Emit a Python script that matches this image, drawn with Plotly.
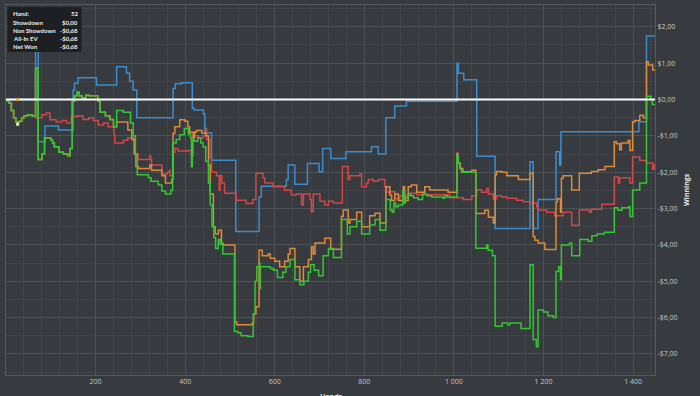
import plotly.graph_objects as go

hands_max = 1449

showdown = [(0,0.0),(66,1.37),(72,-1.16),(87,-0.73),(117,-0.84),(150,0.26),(153,0.45),(161,0.6),(202,0.4),(247,0.9),(269,0.72),(276,0.5),(284,0.26),(292,-0.5),(373,0.3),(378,0.43),(392,0.46),(416,-0.24),(420,-0.29),(441,-0.4),(444,-0.92),(459,-1.67),(513,-3.63),(565,-2.68),(570,-2.39),(626,-2.2),(630,-1.8),(645,-2.33),(673,-1.76),(699,-1.99),(707,-1.35),(725,-1.62),(759,-1.44),(816,-1.3),(831,-1.5),(848,-0.5),(868,-0.18),(894,-0.05),(1007,1.0),(1010,0.72),(1022,0.54),(1051,-1.56),(1092,-3.55),(1170,-1.71),(1177,-3.55),(1188,-2.75),(1228,-1.44),(1236,-1.8),(1239,-0.89),(1413,-0.61),(1430,1.75),(1449,1.75)]

non_showdown = [(0,-0.03),(7,-0.1),(12,-0.3),(17,-0.5),(22,-0.62),(30,-0.6),(35,-0.5),(40,-0.45),(48,-0.42),(58,-0.45),(66,-0.5),(80,-0.42),(90,-0.37),(98,-0.56),(112,-0.62),(125,-0.58),(135,-0.65),(146,-0.47),(160,-0.45),(172,-0.55),(185,-0.5),(195,-0.58),(206,-0.7),(218,-0.65),(228,-0.75),(241,-0.96),(243,-1.2),(262,-1.12),(272,-1.05),(285,-1.1),(288,-1.5),(295,-1.65),(321,-1.55),(323,-1.65),(325,-1.8),(348,-2.05),(360,-2.0),(365,-1.95),(366,-2.1),(373,-1.45),(377,-1.35),(384,-1.42),(406,-1.4),(414,-1.55),(418,-1.0),(430,-1.05),(440,-1.0),(446,-0.8),(448,-1.1),(455,-1.6),(459,-2.0),(470,-2.1),(476,-2.5),(478,-2.1),(482,-2.3),(488,-2.58),(514,-2.77),(536,-2.86),(551,-2.75),(558,-2.03),(574,-2.15),(578,-2.3),(596,-2.4),(622,-2.5),(637,-2.63),(648,-2.6),(660,-2.9),(664,-2.6),(679,-2.75),(682,-3.09),(686,-2.6),(701,-2.8),(712,-2.9),(720,-2.8),(731,-2.85),(751,-1.84),(764,-2.2),(768,-2.1),(790,-2.05),(794,-2.4),(805,-2.3),(809,-2.2),(820,-2.25),(831,-2.2),(846,-2.4),(850,-2.55),(857,-2.54),(868,-2.73),(879,-2.65),(887,-2.5),(890,-2.65),(902,-2.58),(917,-2.62),(991,-2.7),(1021,-2.75),(1040,-2.65),(1051,-2.49),(1062,-2.55),(1073,-2.45),(1077,-2.6),(1088,-2.73),(1095,-2.65),(1107,-2.68),(1118,-2.72),(1140,-2.77),(1155,-2.81),(1170,-2.85),(1185,-2.95),(1188,-3.04),(1207,-3.1),(1225,-3.2),(1244,-3.1),(1263,-3.46),(1280,-3.04),(1303,-3.1),(1307,-3.02),(1330,-2.88),(1358,-2.13),(1367,-2.3),(1370,-2.15),(1389,-2.15),(1393,-2.3),(1399,-1.58),(1415,-1.68),(1430,-1.75),(1444,-1.92),(1447,-1.8),(1449,-1.8)]

all_in_ev = [(0,-0.03),(7,-0.1),(12,-0.3),(17,-0.5),(22,-0.62),(30,-0.6),(35,-0.5),(40,-0.45),(48,-0.42),(58,-0.45),(66,0.87),(72,-1.65),(80,-1.5),(86,-1.06),(100,-1.12),(104,-1.2),(108,-1.3),(118,-1.45),(128,-1.5),(138,-1.55),(143,-1.35),(148,-0.05),(153,0.1),(158,0.2),(163,0.1),(170,0.05),(178,0.12),(186,0.1),(205,-0.05),(210,-0.35),(222,-0.45),(232,-0.55),(240,-0.75),(247,-0.62),(272,-0.84),(281,-1.1),(286,-1.5),(290,-1.84),(296,-1.9),(321,-1.8),(325,-1.95),(348,-2.1),(356,-2.3),(370,-2.2),(373,-0.93),(377,-0.75),(388,-0.56),(399,-0.6),(406,-0.75),(410,-0.9),(418,-1.05),(421,-0.9),(425,-0.85),(437,-0.92),(446,-1.0),(452,-1.8),(456,-2.6),(463,-3.5),(467,-3.7),(474,-3.6),(481,-3.96),(485,-4.0),(511,-6.12),(515,-6.2),(550,-6.15),(553,-5.9),(558,-5.7),(565,-4.15),(572,-4.3),(585,-4.25),(590,-4.37),(600,-4.45),(611,-4.6),(622,-4.45),(630,-4.25),(634,-4.1),(645,-4.6),(656,-5.0),(664,-4.6),(675,-4.4),(682,-4.05),(686,-4.25),(690,-3.95),(712,-3.82),(725,-4.12),(749,-3.21),(753,-3.04),(764,-3.4),(768,-3.3),(783,-3.1),(794,-3.5),(812,-3.2),(824,-3.13),(835,-3.4),(848,-2.4),(857,-2.63),(861,-2.78),(868,-2.6),(876,-2.78),(887,-2.4),(890,-2.78),(898,-2.4),(905,-2.35),(917,-2.55),(935,-2.4),(946,-2.49),(987,-2.55),(1007,-1.48),(1009,-1.75),(1014,-1.9),(1020,-1.99),(1040,-1.95),(1049,-3.14),(1069,-3.05),(1077,-3.24),(1088,-3.4),(1092,-2.08),(1095,-1.98),(1107,-2.0),(1118,-2.1),(1144,-2.2),(1170,-2.03),(1177,-3.77),(1181,-3.87),(1188,-3.95),(1203,-4.13),(1228,-2.81),(1231,-2.73),(1238,-3.1),(1240,-2.17),(1244,-2.1),(1263,-2.49),(1280,-2.03),(1307,-1.98),(1322,-1.93),(1337,-1.84),(1358,-1.16),(1363,-1.22),(1370,-1.38),(1374,-1.2),(1389,-1.13),(1393,-1.4),(1399,-0.61),(1404,-0.58),(1415,-0.43),(1423,-0.5),(1430,1.04),(1434,0.95),(1444,0.81),(1449,0.81)]

net_won = [(0,-0.03),(7,-0.1),(12,-0.3),(17,-0.5),(22,-0.62),(30,-0.6),(35,-0.5),(40,-0.45),(48,-0.42),(58,-0.45),(66,0.87),(72,-1.65),(80,-1.5),(86,-1.06),(100,-1.12),(104,-1.2),(108,-1.3),(118,-1.45),(128,-1.5),(138,-1.55),(143,-1.35),(148,-0.05),(153,0.1),(158,0.2),(163,0.1),(170,0.05),(178,0.12),(186,0.1),(205,-0.05),(210,-0.35),(222,-0.45),(232,-0.55),(240,-0.75),(247,-0.3),(262,-0.35),(278,-0.65),(284,-1.0),(289,-1.5),(293,-2.07),(318,-2.15),(324,-2.25),(340,-2.35),(348,-2.52),(356,-2.6),(368,-2.5),(372,-1.2),(380,-1.1),(388,-0.97),(398,-0.8),(407,-0.95),(412,-1.05),(414,-1.85),(416,-1.1),(420,-1.15),(428,-1.05),(435,-1.2),(440,-1.3),(446,-1.7),(452,-2.3),(456,-2.9),(460,-3.5),(464,-3.8),(468,-4.1),(474,-3.85),(478,-3.98),(484,-4.25),(510,-6.38),(518,-6.42),(525,-6.5),(540,-6.52),(552,-5.9),(556,-5.0),(560,-4.6),(566,-4.5),(567,-5.2),(568,-4.6),(590,-4.65),(597,-4.7),(606,-4.9),(618,-4.75),(625,-4.6),(634,-4.4),(645,-4.96),(656,-5.1),(665,-5.0),(675,-4.75),(680,-4.55),(688,-4.7),(698,-4.85),(708,-4.3),(720,-4.1),(731,-4.35),(749,-3.3),(762,-3.7),(768,-3.5),(783,-3.35),(794,-3.7),(812,-3.45),(824,-3.3),(835,-3.6),(848,-2.75),(858,-3.04),(862,-3.1),(866,-2.85),(870,-2.95),(876,-2.9),(886,-2.5),(888,-2.85),(892,-2.7),(898,-2.6),(904,-2.65),(910,-2.7),(920,-2.75),(930,-2.6),(940,-2.65),(950,-2.68),(976,-2.72),(980,-2.65),(985,-2.68),(1007,-1.56),(1010,-1.75),(1013,-1.9),(1017,-2.0),(1049,-4.09),(1073,-4.0),(1076,-4.15),(1086,-4.3),(1092,-6.24),(1108,-6.15),(1120,-6.2),(1125,-6.15),(1150,-6.3),(1170,-4.55),(1177,-6.6),(1184,-6.8),(1188,-5.79),(1200,-5.85),(1210,-5.95),(1222,-6.0),(1228,-4.73),(1234,-4.6),(1238,-4.95),(1240,-4.0),(1258,-3.95),(1263,-4.3),(1281,-3.85),(1300,-3.9),(1308,-3.75),(1320,-3.7),(1336,-3.65),(1358,-2.98),(1366,-3.05),(1375,-2.98),(1390,-2.95),(1393,-3.22),(1399,-2.49),(1415,-2.3),(1430,0.09),(1440,0.0),(1443,-0.14),(1449,-0.14)]

hover_hand = 26
hover_values = [-0.68, 0.0]

x_tick_vals = [200, 400, 600, 800, 1000, 1200, 1400]
x_tick_text = ["200", "400", "600", "800", "1 000", "1 200", "1 400"]
y_tick_vals = [2, 1, 0, -1, -2, -3, -4, -5, -6, -7]
y_tick_text = ["$2,00", "$1,00", "$0,00", "-$1,00", "-$2,00", "-$3,00", "-$4,00", "-$5,00", "-$6,00", "-$7,00"]

legend_rows = [("Hand:", "52"), ("Showdown", "$0,00"), ("Non Showdown", "-$0,68"), ("All-In EV", "-$0,68"), ("Net Won", "-$0,68")]

series = [
    ("Showdown", showdown, "#3d8dcc"),
    ("Non Showdown", non_showdown, "#cf4747"),
    ("All-In EV", all_in_ev, "#dd8a3a"),
    ("Net Won", net_won, "#34c634"),
]

BG = "#373a3e"
fig = go.Figure()
for name, pts, col in series:
    fig.add_trace(go.Scatter(
        x=[p[0] for p in pts], y=[p[1] for p in pts], mode="lines",
        line=dict(color=col, width=1.5, shape="hv"), name=name, showlegend=False,
        hoverinfo="skip"))

fig.add_trace(go.Scatter(x=[0, hands_max], y=[0, 0], mode="lines",
                         line=dict(color="#ffffff", width=2), showlegend=False, hoverinfo="skip"))
fig.add_trace(go.Scatter(x=[hover_hand, hover_hand], y=hover_values, mode="markers",
                         marker=dict(symbol="square", size=3, color=["#f2ecc8", "#d9a24e"]),
                         showlegend=False, hoverinfo="skip"))

font_family = "Open Sans, DejaVu Sans, sans-serif"
box_font = "Lato"
fig.update_layout(
    width=700, height=396,
    margin=dict(l=6, r=45, t=5, b=21),
    paper_bgcolor=BG, plot_bgcolor=BG,
    font=dict(family=font_family, color="#c8c8c8", size=7),
    hovermode=False,
    xaxis=dict(range=[0, hands_max], tickmode="array", tickvals=x_tick_vals, ticktext=x_tick_text,
               showgrid=True, gridcolor="#4e5156", gridwidth=1, zeroline=False,
               showline=True, linecolor="#55585d", linewidth=1, mirror=True, ticks="",
               tickfont=dict(size=7, color="#c8c8c8"), automargin=False,
               minor=dict(tickmode="linear", tick0=0, dtick=40, showgrid=True, gridcolor="#414449", gridwidth=1)),
    yaxis=dict(range=[-7.58, 2.60], side="right", tickmode="array", tickvals=y_tick_vals, ticktext=y_tick_text,
               showgrid=True, gridcolor="#4e5156", gridwidth=1, zeroline=False,
               showline=True, linecolor="#55585d", linewidth=1, mirror=True, ticks="",
               tickfont=dict(size=7, color="#c8c8c8"), automargin=False,
               minor=dict(tickmode="linear", tick0=0, dtick=0.5, showgrid=True, gridcolor="#414449", gridwidth=1)),
)

# axis titles
fig.add_annotation(text="<b>Winnings</b>", xref="paper", yref="paper", x=(686-6)/649, y=(375-190)/370,
                   textangle=-90, showarrow=False, font=dict(size=7, color="#e6e6e6", family=font_family),
                   xanchor="center", yanchor="middle")
fig.add_annotation(text="<b>Hands</b>", xref="paper", yref="paper", x=(331-6)/649, y=-(390-375)/370,
                   showarrow=False, font=dict(size=7, color="#e6e6e6", family=font_family),
                   xanchor="center", yanchor="top")

# info box
fig.add_shape(type="rect", xref="paper", yref="paper", x0=(7.5-6)/649, x1=(81.5-6)/649,
              y0=(375-52)/370, y1=(375-7)/370, fillcolor="rgba(28,29,31,0.9)", line=dict(width=0), layer="above")
row_y = [13.3, 22.3, 30.4, 38.7, 47.0]
for (lab, val), yy in zip(legend_rows, row_y):
    fig.add_annotation(text="<b>%s</b>" % lab, xref="paper", yref="paper", x=(10.5-6)/649, y=(375-yy)/370,
                       showarrow=False, xanchor="left", yanchor="middle",
                       font=dict(size=6, color="#ececec", family=box_font))
    fig.add_annotation(text="<b>%s</b>" % val, xref="paper", yref="paper", x=(80-6)/649, y=(375-yy)/370,
                       showarrow=False, xanchor="right", yanchor="middle",
                       font=dict(size=6, color="#ececec", family=box_font))

fig.write_html("out.html", config={"displayModeBar": False, "staticPlot": True},
               post_script="document.body.style.margin='0px';document.body.style.background='%s';" % BG)
